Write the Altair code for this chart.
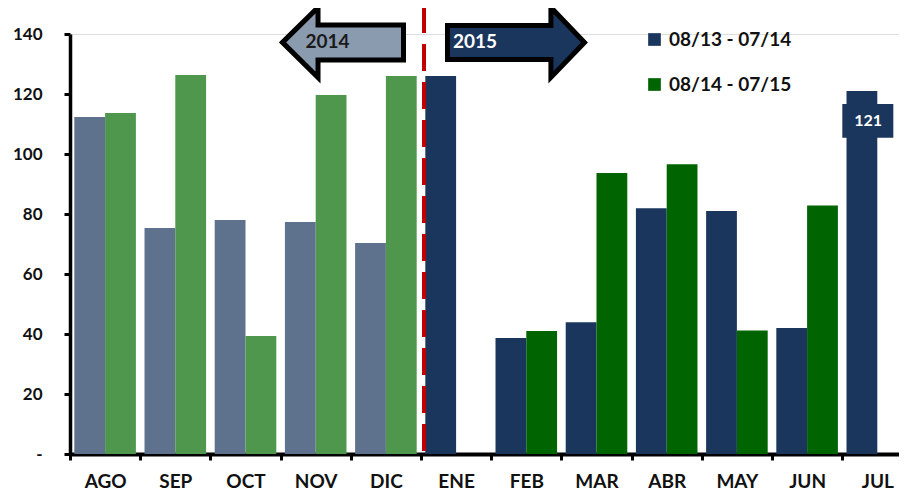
import altair as alt
import pandas as pd

# ---------------- data ----------------
months = ["AGO", "SEP", "OCT", "NOV", "DIC", "ENE", "FEB", "MAR", "ABR", "MAY", "JUN", "JUL"]
year_of_month = ["2014"] * 5 + ["2015"] * 7
series_names = ["08/13 - 07/14", "08/14 - 07/15"]
values_1314 = [112.3, 75.3, 78.0, 77.3, 70.3, 126.0, 38.7, 43.9, 81.9, 81.0, 42.0, 121.0]
values_1415 = [113.7, 126.3, 39.3, 119.7, 126.0, None, 41.0, 93.7, 96.6, 41.2, 82.8, None]
y_ticks = [0, 20, 40, 60, 80, 100, 120, 140]
arrow_labels = ["2014", "2015"]

rows = []
for m, yr, v1, v2 in zip(months, year_of_month, values_1314, values_1415):
    for s, v in ((series_names[0], v1), (series_names[1], v2)):
        if v is None:
            continue
        rows.append({"month": m, "series": s, "value": v, "key": f"{s}|{yr}"})
df = pd.DataFrame(rows)

color_domain = [f"{series_names[0]}|2015", f"{series_names[1]}|2015",
                f"{series_names[0]}|2014", f"{series_names[1]}|2014"]
color_range = ["#1a365d", "#006400", "#5e728e", "#4e974c"]

FONT = "Lato"

x_scale = alt.Scale(domain=months, range=[0, 842.4], paddingInner=0, paddingOuter=0)
y_scale = alt.Scale(domain=[0, 140], nice=False, zero=True)

bars = alt.Chart(df).mark_bar().encode(
    x=alt.X("month:N", sort=months, scale=x_scale, title=None,
            axis=alt.Axis(labelAngle=0, labelFont=FONT, labelFontSize=19, labelFontWeight="bold",
                          labelColor="#111", labelPadding=12, tickBand="extent", tickSize=6,
                          tickWidth=3, tickColor="#000", domainColor="#000", domainWidth=4,
                          grid=False)),
    xOffset=alt.XOffset("series:N", scale=alt.Scale(domain=series_names, paddingInner=0, paddingOuter=0.14)),
    y=alt.Y("value:Q", scale=y_scale, title=None,
            axis=alt.Axis(values=y_ticks, labelExpr="datum.value == 0 ? '-' : datum.label",
                          labelFont=FONT, labelFontSize=17, labelFontWeight="bold", labelColor="#111",
                          labelPadding=22, tickSize=6, tickWidth=3, tickColor="#000",
                          domainColor="#000", domainWidth=3.5, grid=False)),
    color=alt.Color("key:N", scale=alt.Scale(domain=color_domain, range=color_range),
                    legend=alt.Legend(orient="none", legendX=575, legendY=-4, title=None,
                                      values=color_domain[:2],
                                      labelExpr="split(datum.label, '|')[0]",
                                      symbolType="square", symbolSize=161, symbolStrokeWidth=0,
                                      labelFont=FONT, labelFontSize=19, labelFontWeight="bold",
                                      labelColor="#111", rowPadding=25, labelOffset=5, padding=0,
                                      labelLimit=300)),
)

# red dashed divider between 2014 and 2015
divider_df = pd.DataFrame({"month": ["ENE"], "top": [149.3], "bottom": [0.0]})
divider = alt.Chart(divider_df).mark_rule(color="#c00000", strokeWidth=4, strokeDash=[27, 11]).encode(
    x=alt.X("month:N", bandPosition=0.043),
    y=alt.Y("top:Q"),
    y2="bottom:Q",
)

LEFT_ARROW = "M -1 0 L -0.413 -0.579 L -0.413 -0.289 L 1 -0.289 L 1 0.289 L -0.413 0.289 L -0.413 0.579 Z"
RIGHT_ARROW = "M 1 0 L 0.51 -0.511 L 0.51 -0.248 L -1 -0.248 L -1 0.248 L 0.51 0.248 L 0.51 0.511 Z"

left_df = pd.DataFrame({"month": ["NOV"], "yv": [137.2], "label": [arrow_labels[0]]})
right_df = pd.DataFrame({"month": ["FEB"], "yv": [137.2], "label": [arrow_labels[1]]})
left_text_df = pd.DataFrame({"month": ["NOV"], "yv": [137.3], "label": [arrow_labels[0]]})
right_text_df = pd.DataFrame({"month": ["ENE"], "yv": [137.3], "label": [arrow_labels[1]]})

left_arrow = alt.Chart(left_df).mark_point(
    shape=LEFT_ARROW, size=121 ** 2, filled=True, fill="#8a9bb0", stroke="#000",
    strokeWidth=5, opacity=1, fillOpacity=1, strokeOpacity=1, strokeJoin="miter"
).encode(x=alt.X("month:N", bandPosition=0.889), y="yv:Q")

right_arrow = alt.Chart(right_df).mark_point(
    shape=RIGHT_ARROW, size=137 ** 2, filled=True, fill="#1a365d", stroke="#000",
    strokeWidth=5, opacity=1, fillOpacity=1, strokeOpacity=1, strokeJoin="miter"
).encode(x=alt.X("month:N", bandPosition=0.353), y="yv:Q")

left_text = alt.Chart(left_text_df).mark_text(
    font=FONT, fontSize=19, fontWeight="bold", color="#1a1a1a", baseline="middle", align="center"
).encode(x=alt.X("month:N", bandPosition=0.668), y="yv:Q", text="label:N")

right_text = alt.Chart(right_text_df).mark_text(
    font=FONT, fontSize=19, fontWeight="bold", color="#ffffff", baseline="middle", align="center"
).encode(x=alt.X("month:N", bandPosition=0.769), y="yv:Q", text="label:N")

# value label box on JUL
jul = alt.Chart(df).transform_filter(
    (alt.datum.month == "JUL") & (alt.datum.series == series_names[0])
)
BOX = "M -1 0.51 L 1 0.51 L 1 1.83 L -1 1.83 Z"
label_box = jul.mark_point(
    shape=BOX, size=51 ** 2, filled=True, fill="#1a365d", opacity=1, fillOpacity=1, strokeWidth=0
).encode(x=alt.X("month:N", bandPosition=0.365), y="value:Q")
label_text = jul.mark_text(
    font=FONT, fontSize=16, fontWeight="bold", color="#ffffff", baseline="middle", align="center", dy=30
).encode(x=alt.X("month:N", bandPosition=0.37), y="value:Q", text=alt.Text("value:Q", format="d"))

chart = alt.layer(
    bars, divider, left_arrow, right_arrow, left_text, right_text, label_box, label_text
).properties(
    width=829, height=420,
    autosize=alt.AutoSizeParams(type="none"),
    padding={"left": 62, "top": 26, "right": 0, "bottom": 36},
    background="#ffffff",
).configure_view(stroke="transparent", strokeWidth=0).configure_axis(grid=False).configure(font=FONT)

chart.save("out.html", embed_options={"renderer": "svg", "actions": False})
